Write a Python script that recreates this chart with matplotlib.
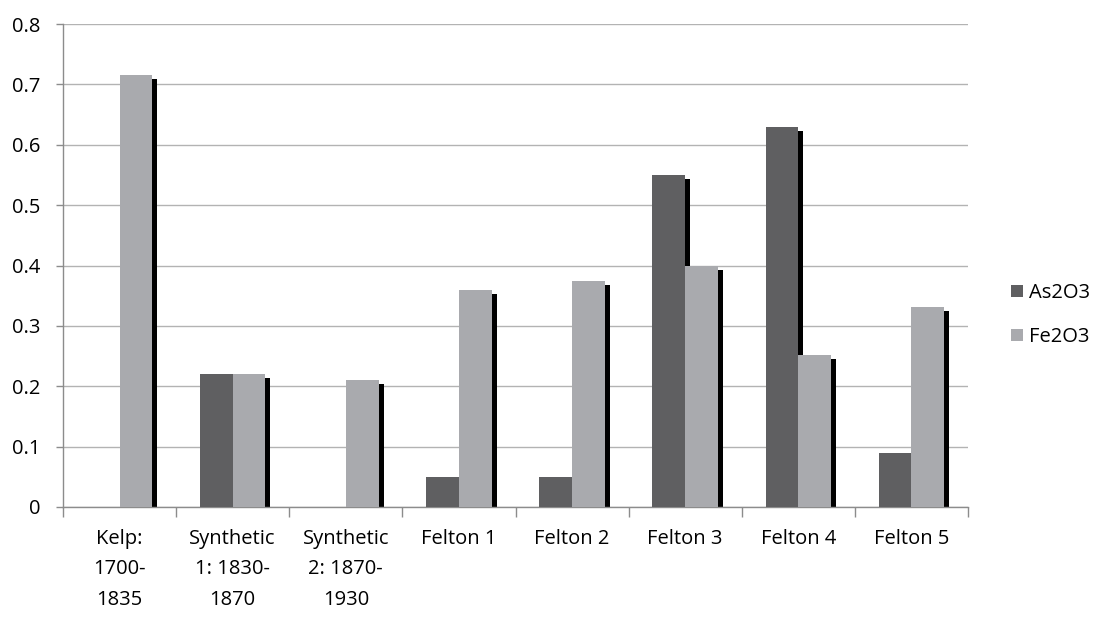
import matplotlib
matplotlib.use("Agg")
import matplotlib.pyplot as plt
import matplotlib.transforms as mtransforms
import numpy as np

categories = ["Kelp:\n1700-\n1835", "Synthetic\n1: 1830-\n1870", "Synthetic\n2: 1870-\n1930",
              "Felton 1", "Felton 2", "Felton 3", "Felton 4", "Felton 5"]
as2o3 = [0.0, 0.22, 0.0, 0.05, 0.05, 0.55, 0.63, 0.09]
fe2o3 = [0.715, 0.22, 0.21, 0.36, 0.375, 0.40, 0.252, 0.332]
series_names = ["As2O3", "Fe2O3"]
yticks = [0, 0.1, 0.2, 0.3, 0.4, 0.5, 0.6, 0.7, 0.8]

plt.rcParams['font.family'] = ['Open Sans', 'DejaVu Sans']

fig = plt.figure(figsize=(11, 6.17), dpi=100)
ax = fig.add_axes([63/1100, 1-507/617, 905/1100, 483/617])

x = np.arange(len(categories))
w = 0.29
c_as = '#5f5f61'
c_fe = '#a9aaae'

shadow_tr = ax.transData + mtransforms.ScaledTranslation(5/100, -4/100, fig.dpi_scale_trans)
for vals, off in ((as2o3, -w/2), (fe2o3, w/2)):
    ax.bar(x + off, vals, width=w, color='black', transform=shadow_tr, zorder=2, linewidth=0)
ax.bar(x - w/2, as2o3, width=w, color=c_as, zorder=3, linewidth=0, label=series_names[0])
ax.bar(x + w/2, fe2o3, width=w, color=c_fe, zorder=4, linewidth=0, label=series_names[1])

ax.set_xlim(-0.5, len(categories) - 0.5)
ax.set_ylim(0, 0.8)
ax.set_yticks(yticks)
ax.set_yticklabels([f"{v:g}" for v in yticks])
ax.yaxis.grid(True, color='#b3b3b3', linewidth=1.0, zorder=0)
ax.set_axisbelow(True)

fs = 14.5
ax.set_xticks(x)
ax.set_xticklabels(categories, fontsize=fs, linespacing=1.68, va='top')
ax.set_xticks(np.arange(-0.5, len(categories)), minor=True)
ax.tick_params(axis='x', which='major', length=0, pad=16)
ax.tick_params(axis='x', which='minor', length=7, color='#8c8c8c', width=1)
ax.tick_params(axis='y', length=5, color='#8c8c8c', width=1, labelsize=fs, pad=11)

for s in ['top', 'right']:
    ax.spines[s].set_visible(False)
for s in ['left', 'bottom']:
    ax.spines[s].set_color('#8c8c8c')
    ax.spines[s].set_linewidth(1)

leg = ax.legend(loc='center left', bbox_to_anchor=(1.028, 0.3975), frameon=False,
                fontsize=fs, handlelength=0.55, handleheight=0.55, handletextpad=0.3,
                labelspacing=1.2)

fig.savefig("out.png", dpi=100, facecolor='white')
